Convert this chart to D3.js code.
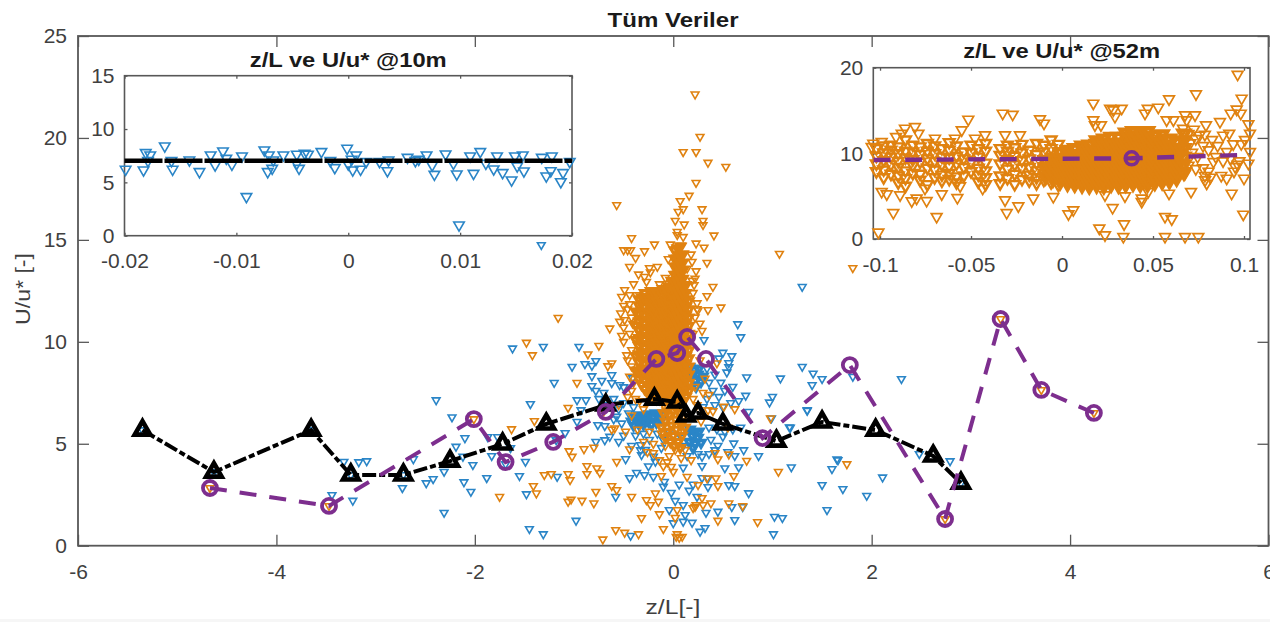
<!DOCTYPE html>
<html>
<head>
<meta charset="utf-8">
<script src="https://cdn.jsdelivr.net/npm/d3@7"></script>
<style>
  html, body { margin: 0; padding: 0; background: #fff; }
  text { font-family: "Liberation Sans", Arial, sans-serif; }
</style>
</head>
<body>
<svg id="chart" width="1270" height="622"></svg>
<script>
// values
const mainXTicks = [-6, -4, -2, 0, 2, 4, 6];
const mainYTicks = [0, 5, 10, 15, 20, 25];
const inset10XTicks = [-0.02, -0.01, 0, 0.01, 0.02];
const inset10YTicks = [0, 5, 10, 15];
const inset52XTicks = [-0.1, -0.05, 0, 0.05, 0.1];
const inset52YTicks = [0, 10, 20];

const binned10 = [[-5.35,5.67],[-4.63,3.61],[-3.65,5.67],[-3.25,3.47],[-2.72,3.47],[-2.25,4.15],[-1.72,4.99],[-1.28,5.97],[-0.68,6.90],[-0.19,7.19],[0.04,7.05],[0.13,6.36],[0.25,6.51],[0.50,5.97],[1.04,5.13],[1.50,6.07],[2.04,5.67],[2.62,4.40],[2.90,3.07]];
const binned52 = [[-4.67,2.83],[-3.47,1.95],[-2.01,6.21],[-1.69,4.10],[-1.21,5.09],[-0.68,6.56],[-0.17,9.16],[0.04,9.45],[0.14,10.24],[0.33,9.16],[0.90,5.28],[1.78,8.86],[2.74,1.31],[3.30,11.12],[3.71,7.64],[4.24,6.51]];

const blueMain = [[-5.35,5.67],[-4.63,3.61],[-3.65,5.67],[-3.25,3.47],[-2.72,3.47],[2.90,3.07],
  [-2.39,7.14],[-2.23,6.30],[-2.10,5.28],[-2.19,4.86],[-2.12,4.37],[-2.02,3.96],[-2.31,3.63],[-2.42,3.27],[-2.49,3.07],[-2.62,4.25],[-2.73,2.83],[-2.11,3.12],[-2.04,2.65],[-2.31,1.62],[-1.88,3.32],[-1.87,5.33],[-1.77,5.33],[-1.83,4.40],[-1.69,4.0],[-1.55,3.42],[-3.32,4.12],[-3.17,4.10],[-3.09,4.15],[-3.44,2.49],[-3.23,2.21],[-1.64,4.79],
  [-1.20,7.99],[-1.44,6.95],[-1.02,8.78],[-0.89,8.91],[-0.82,8.83],[-0.78,9.06],[-0.82,8.32],[-0.82,7.83],[-0.78,7.60],[-0.72,8.09],[-0.62,8.37],[-0.62,7.98],[-0.54,7.88],[-0.50,7.78],[-0.41,8.22],[-0.97,7.14],[-0.88,7.14],[-0.93,6.65],[-0.97,6.08],[-1.09,5.53],[-1.18,5.18],[-1.49,4.12],[-1.17,3.38],[-1.48,2.53],[-0.98,1.23],[-1.45,0.82],[-1.31,0.57],[-0.78,5.10],[-0.69,5.18],[-0.64,5.35],[-0.55,5.10],[-0.76,5.92],[-0.69,5.87],[-0.57,6.33],[-0.48,4.25],[-0.44,3.32],[-0.37,3.58],[-0.29,3.47],[-0.33,4.94],[-0.33,4.69],[-0.32,4.45],[-0.20,4.37],[-0.18,4.12],[-0.58,2.40],[-0.43,0.49],
  [0,1.11],[0.10,1.18],[0.19,1.13],[0.27,0.69],[0.32,0.87],[-0.04,1.75],[0.12,1.51],[0.33,1.62],[0.45,1.67],[0.59,1.90],[0.62,1.26],[0.76,2.58],[0.70,1.90],[1.02,1.42],[1.10,1.36],[1.01,0.57],[-0.09,3.14],[-0.20,3.38],[0.10,3.83],[0.29,3.91],[0.29,3.32],[0.35,2.88],[0.56,2.98],[0.62,2.93],[0.52,3.80],[0.66,3.85],[0.86,4.40],[0.71,4.69],[0.61,5.02],[0.50,5.35],[0.29,4.37],[0.42,4.69],[1.19,3.85],[1.50,2.98],[1.55,1.75],[1.60,3.76],[1.65,4.24],[1.30,8.78],[1.41,8.45],[1.50,8.18],[1.40,7.88],[1.08,8.21],[0.74,8.26],[0.73,7.36],[1.00,7.31],[0.97,7.03],[0.76,6.57],[1.17,5.81],[1.35,6.65],[0.99,6.25],
  [1.30,12.70],[0.65,10.87],[0.68,10.23],[0.50,9.47],[0.59,9.30],[-1.62,9.68],[-1.31,9.76],[-0.95,9.76],[0.31,10.09],[0.46,9.19],[0.56,8.96],[0.56,8.76],[-1.33,14.75],[1.81,8.29],[2.30,8.18],[1.35,6.62],[1.18,5.79],[2.48,4.50],[2.79,4.15],[1.66,4.20],[1.71,2.78],[2.11,3.35],[1.95,2.45],
  [-0.75,7.2],[-0.7,7.5],[-0.65,6.9],[-0.6,7.2],[-0.55,6.7],[-0.5,7.0],[-0.45,6.5],[-0.4,6.8],[-0.6,6.2],[-0.52,6.0],[-0.5,5.4],[-0.42,4.9],[-0.28,4.7],[-0.12,4.8],[-0.38,5.4],[-0.3,5.5],[-0.24,5.2],[-0.16,5.5],[-0.1,5.2],[-0.04,5.6],
  [0.18,8.8],[0.34,8.7],[0.36,8.0],[0.42,8.4],[0.48,8.0],[0.54,8.5],[0.4,7.6],[0.46,7.3],[0.52,7.6],[0.6,7.8],[0.34,7.2],[0.42,6.9],[0.5,6.8],[0.58,7.0],[0.66,7.1],[0.3,6.8],[0.38,5.2],[0.36,4.5],[0.25,4.5],[0.36,5.8],[0.44,5.7],[0.52,5.6],[0.6,5.7],[0.68,5.8],[0.14,4.4],[0.1,4.9],[0.08,5.3],[0.45,4.9],[0.55,4.6],[0.62,4.4],[0.35,3.3],[-0.02,2.6],[0.02,2.2],[0.1,2.0],[-0.1,2.9],[-0.25,3.9],[0.2,3.0],[0.24,2.4],[0.16,2.7],[0.06,3.0]];

// patches where the blue markers merge
const blueDense = [[-0.42,6.1],[-0.38,6.3],[-0.35,6.0],[-0.32,6.2],[-0.3,5.95],[-0.27,6.35],[-0.25,6.1],[-0.22,5.95],[-0.2,6.3],[-0.17,6.05],[-0.15,6.4],[-0.34,6.4],[-0.4,5.9],[-0.24,6.45],[-0.18,6.5],[-0.12,6.2],[-0.28,6.1],[-0.36,6.15],
  [0.19,8.4],[0.22,8.1],[0.25,8.4],[0.28,8.05],[0.21,8.6],[0.26,8.7],[0.3,8.3],[0.23,7.8],
  [0.16,5.1],[0.19,5.4],[0.22,5.0],[0.25,5.3],[0.28,5.05],[0.2,4.8],[0.26,5.6],[0.17,5.7],[0.22,5.55]];

// solid part of the orange cloud, one list of U/u* per z/L column
const coreX = [-0.38,-0.35,-0.32,-0.29,-0.26,-0.23,-0.20,-0.17,-0.14,-0.11,-0.08,-0.05,-0.02,0.01,0.04,0.07,0.10,0.13,0.16];
const coreY = [
  [8.6,9.3,10.1,10.8,11.5],
  [8.2,8.6,9.0,9.4,9.8,10.2,10.6,11.0,11.4,11.8,12.1],
  [7.9,8.3,8.7,9.1,9.5,9.9,10.3,10.7,11.1,11.5,11.9,12.2],
  [7.7,8.1,8.5,8.9,9.3,9.7,10.1,10.5,10.9,11.3,11.7,12.1,12.4],
  [7.5,7.9,8.3,8.7,9.1,9.5,9.9,10.3,10.7,11.1,11.5,11.9,12.2],
  [7.4,7.8,8.2,8.6,9.0,9.4,9.8,10.2,10.6,11.0,11.4,11.8,12.2,12.5],
  [7.3,7.7,8.1,8.5,8.9,9.3,9.7,10.1,10.5,10.9,11.3,11.7,12.1,12.4],
  [7.2,7.6,8.0,8.4,8.8,9.2,9.6,10.0,10.4,10.8,11.2,11.6,12.0,12.4],
  [7.2,7.6,8.0,8.4,8.8,9.2,9.6,10.0,10.4,10.8,11.2,11.6,12.0,12.5],
  [7.1,7.5,7.9,8.3,8.7,9.1,9.5,9.9,10.3,10.7,11.1,11.5,11.9,12.3,12.6],
  [7.1,7.5,7.9,8.3,8.7,9.1,9.5,9.9,10.3,10.7,11.1,11.5,11.9,12.3,12.6],
  [7.1,7.5,7.9,8.3,8.7,9.1,9.5,9.9,10.3,10.7,11.1,11.5,11.9,12.3,12.7],
  [7.0,7.4,7.8,8.2,8.6,9.0,9.4,9.8,10.2,10.6,11.0,11.4,11.8,12.2,12.6,13.0],
  [6.9,7.3,7.7,8.1,8.5,8.9,9.3,9.7,10.1,10.5,10.9,11.3,11.7,12.1,12.5,12.9,13.3,13.7,14.1,14.5],
  [6.9,7.3,7.7,8.1,8.5,8.9,9.3,9.7,10.1,10.5,10.9,11.3,11.7,12.1,12.5,12.9,13.3,13.7,14.1,14.6],
  [7.0,7.4,7.8,8.2,8.6,9.0,9.4,9.8,10.2,10.6,11.0,11.4,11.8,12.2,12.6,13.0,13.4,13.8,14.2,14.7],
  [7.1,7.5,7.9,8.3,8.7,9.1,9.5,9.9,10.3,10.7,11.1,11.5,11.9,12.3,12.7,13.1,13.5,13.9,14.3],
  [7.3,7.7,8.1,8.5,8.9,9.3,9.7,10.1,10.5,10.9,11.3,11.7,12.1,12.4,12.8],
  [7.6,8.0,8.4,8.8,9.2,9.6,10.0,10.4,10.8,11.2,11.6,12.0]];
// wedge just below the black line
const orangeWedge = [[-0.12,5.8],[-0.08,6.1],[-0.06,5.6],[-0.04,6.4],[-0.02,5.9],[0,5.4],[0,6.6],[0.02,6.2],[0.03,5.7],[0.05,5.1],[0.06,6.5],[0.08,5.9],[0.09,5.4],[0.1,6.3],[0.12,5.8],[-0.03,5.1],[0.01,4.9],[-0.08,5.3],[-0.06,6.6],[0.04,6.7],[-0.1,6.5],[0.07,4.8]];

const orangeMain = [[-4.67,2.83],[-3.47,1.95],[-2.01,6.21],[2.74,1.31],[3.30,11.12],[3.71,7.64],[4.24,6.51],[1.81,13.62],[1.75,4.0],
  [0.22,22.14],[0.27,20.06],[0.10,19.31],[0.23,19.31],[0.35,18.79],[0.53,18.59],[0.23,17.8],[0.16,17.17],[0.07,16.91],[0.10,16.51],[0.05,16.38],[0.29,16.51],[-0.57,16.71],[0.02,15.94],[0.11,15.76],[0.30,15.94],[0.30,15.73],[0.04,15.4],[0.04,15.24],[0.10,15.15],[0.41,15.22],[-0.42,15.09],[-0.19,14.78],[-0.03,14.78],[0.09,14.71],[0.23,14.83],[0.31,14.63],[-0.50,14.5],[-0.46,14.5],[-0.43,14.5],[-0.29,14.45],[1.07,14.32],[-0.38,14.12],[-0.05,14.06],[0.18,14.29],[0.19,13.93],[0.34,13.88],[-0.44,13.68],[-0.16,13.68],[-0.24,13.62],[-0.35,13.31],[-0.29,13.19],[-0.23,13.41],[-0.08,13.14],[0.23,13.47],[0.22,13.11],[-0.40,12.83],[-0.27,12.95],[-0.14,12.83],[-0.07,12.83],[0.21,12.79],[0.40,12.7],[-0.49,12.54],[-0.52,12.21],[-0.44,12.3],[-0.37,12.3],[0.34,12.25],[-0.50,11.77],[-0.44,11.85],[-0.53,11.4],[0.24,11.61],[0.25,11.55],[0.35,11.56],[0.48,11.69],[-1.16,11.18],[-0.54,10.99],[-0.64,10.66],[-0.49,11.07],[0.29,10.54],[-1.48,9.96],[-1.42,9.35],[-0.75,9.81],[-0.86,9.39],[-0.62,8.95],[-0.66,8.81],[-0.50,10.0],[-0.47,9.35],[-0.52,10.3],
  [-0.46,11.6],[-0.42,11.2],[-0.5,10.7],[-0.44,10.4],[-0.41,10.9],[-0.42,9.6],[-0.46,9.1],[-0.42,8.8],[-0.44,8.3],[-0.40,8.0],[-0.42,7.6],[-0.38,7.2],[0.2,12.4],[0.24,11.9],[0.22,11.2],[0.27,10.9],[0.2,10.4],[0.19,13.0],[0.14,13.6],
  [-0.97,7.99],[-1.06,6.77],[-1.40,6.12],[-1.63,5.72],[-1.05,4.64],[-1.02,4.37],[-0.90,4.74],[-0.80,4.82],[-0.87,3.91],[-0.77,3.80],[-0.74,3.58],[-1.30,3.47],[-1.23,3.52],[-1.06,3.52],[-1.04,3.22],[-0.87,3.52],[-1.41,2.93],[-1.38,2.57],[-1.75,2.40],[-0.78,2.65],[-0.62,2.93],[-0.57,2.73],[-0.42,2.40],[-1.06,2.16],[-1.03,2.27],[-0.92,2.21],[-0.80,2.08],[-0.32,1.36],[-0.58,0.77],[-0.49,0.64],[-0.35,0.57],[-0.71,0.31],[-0.10,0.82],[0.04,0.57],[0.06,0.39],[0.03,0.44],[0.09,0.44],[0.45,1.23],[0.85,1.16],[-0.27,2.24],[-0.23,2.0],[-0.18,2.57],[-0.15,2.16],[-0.14,1.55],[0.04,1.75],[0.02,1.37],[0.22,1.91],[0.20,1.85],[0.23,2.0],[0.29,2.34],[0.30,2.0],[0.38,2.08],[0.56,2.08],[0.70,1.95],[1.06,3.63],[-0.12,3.42],[-0.02,3.87],[0,3.63],[0.14,3.38],[0.25,2.98],[0.45,2.93],[0.34,3.31],[0.43,3.31],[0.61,3.42],[-0.57,4.12],[-0.44,4.73],[-0.20,4.55],[0.42,4.55],[0.45,4.24],[0.56,4.48],[0.74,4.17],[0.98,6.25],[0.51,6.82],[0.35,6.65],[0.44,8.95],[-0.59,5.76],
  [-0.70,6.6],[-0.62,5.7],[-0.55,6.9],[-0.48,5.6],[-0.42,6.4],[-0.36,5.7],[-0.30,6.7],[-0.46,7.3],[-0.34,7.1],[-0.24,5.6],[-0.12,5.5],[0.32,8.2],[0.36,7.4],[0.40,6.6],[0.27,9.1],[0.22,7.8],[0.2,7.2],[0.24,6.9],[0.3,7.5],[0.28,6.1],[0.55,5.8],[0.62,6.7],
  [-0.30,5.1],[-0.26,4.6],[-0.20,5.0],[-0.14,4.2],[-0.08,4.9],[-0.04,4.4],[0.02,4.7],[0.08,4.3],[0.12,4.7],[0.18,4.2],[-0.1,3.9],[-0.06,4.1]];

const blue10 = [[-.0199,6.22],[-.0183,6.16],[-.0181,7.78],[-.0177,7.56],[-.0179,7.03],[-.0164,8.41],[-.0158,7.03],[-.0157,6.22],[-.0142,7.09],[-.0133,6.0],[-.0123,7.56],[-.0119,6.63],[-.0112,7.94],[-.0109,7.25],[-.0104,6.69],[-.0095,7.47],[-.0091,3.66],[-.0075,8.03],[-.0071,7.56],[-.0067,7.09],[-.0072,6.0],[-.0068,6.31],[-.0058,7.56],[-.0046,7.63],[-.0044,6.31],[-.0046,6.78],[-.0039,7.72],[-.0036,7.63],[-.0024,7.88],[-.0016,7.03],[-.0012,6.38],[-.0001,8.19],[0,6.72],[.0003,7.16],[.0004,6.16],[.0007,7.56],[.0011,6.22],[.0016,6.94],[.0028,6.94],[.0036,7.09],[.0035,6.09],[.0053,7.34],[.006,7.03],[.0063,7.16],[.007,7.56],[.0075,6.63],[.0077,5.75],[.0087,7.66],[.0094,6.78],[.0097,5.78],[.0099,1.0],[.0109,7.47],[.0112,5.84],[.0118,7.88],[.0123,6.78],[.013,6.25],[.0133,7.47],[.0138,5.91],[.0146,5.22],[.0149,7.47],[.0151,6.53],[.0156,7.56],[.0157,6.06],[.0173,7.34],[.0177,5.59],[.0182,7.47],[.0181,6.09],[.019,5.06],[.0192,5.91],[.0198,6.94]];
const mean10 = [[-0.02,7.03],[0.02,7.03]];

const orange52 = [[.0965,19.22],[.0987,16.42],[.0736,16.93],[.0588,16.34],[.0172,15.84],[.096,15.14],[.0927,14.67],[.0982,14.67],[.1024,13.42],[.1033,12.33],[-.0326,14.67],[-.0271,14.55],[-.0515,13.97],[-.0551,12.72],[-.0121,14.01],[-.0099,13.5],[.0282,15.06],[.0328,15.25],[.0264,15.25],[.0291,14.28],[.0471,15.25],[.0529,15.37],[.0456,14.67],[.0172,13.89],[.0181,13.31],[.0214,13.31],[.0612,13.89],[.0575,13.89],[.0676,14.47],[.0731,14.47],[.0685,13.89],[.0791,13.31],[.0868,13.7],[.0919,12.33],[.0941,11.09],[-.0313,12.14],[-.0231,12.14],[-.0423,12.14],[-.0478,11.75],[-.0588,11.75],[-.0698,11.75],[-.0808,13.11],[-.0863,12.92],[-.0881,12.33],[-.0912,11.95],[-.0789,12.33],[-.1037,11.17],[-.0991,11.36],[-.1046,10.78],
  [-.1009,.78],[-.0927,3.07],[-.0689,2.61],[-.0991,5.53],[-.0963,5.25],[-.089,5.14],[-.0826,4.44],[-.0799,4.75],[-.0744,4.47],[-.0661,5.25],[-.0575,4.82],[-.0753,5.91],[-.0436,5.91],[-.056,6.19],[-.0313,4.55],[-.0304,3.07],[-.024,3.85],[-.0158,4.75],[-.0048,4.94],[.0035,2.92],[.0062,3.39],[.0205,1.25],[.0236,.47],[.0341,1.75],[.0337,.27],[.0566,2.61],[.0603,2.33],[.0566,.27],[.0676,.27],[.0749,.27],[.0236,5.14],[.0278,3.66],[.0346,5.02],[.0438,4.75],[.0438,4.36],[.0474,5.53],[.0588,5.33],[.0709,5.53],[.0795,6.5],[.0932,5.33],[.0996,2.88],[.1,7.08],[.0786,6.89],[.0905,7.08],[.0951,8.44],[.1024,8.83],[.1033,10.19],[.0832,9.03],
  [.0665,12.9],[.0695,12.3],[.0725,12.8],[.0755,12.1],[.0665,11.6],[.0705,11.2],[.0735,11.7],[.0675,10.6],[.0715,10.1],[.068,9.4],[.0745,9.6],[.0695,8.6],[.0735,8.2],[.0675,7.6],[.0775,8.3],[.0805,7.9],[.0815,7.2],[.0785,7.4],[.0825,11.6],[.0855,10.9],[.0885,12.1],[.0905,10.2],[.0845,9.6],[.0885,9.1],[.0925,9.4],[.0975,9.1],[.1005,11.6],[.0985,11.1],[.0965,8.7],[.0945,7.9],[.0875,7.4],[.0805,10.4],[.0775,10.9],[.0785,12.2]];

// the busy band and the solid core of the 52 m panel, by z/L column
const band52X = [-.102,-.098,-.094,-.090,-.086,-.082,-.078,-.074,-.070,-.066,-.062,-.058,-.054,-.050,-.046,-.042,-.034,-.030,-.026,-.022,-.018,-.014,-.010,-.006,-.002];
const band52Y = [
  [7.9,8.8,9.7,10.6],[7.2,8.1,9.2,10.1,10.9],[7.6,8.7,9.6,10.4,11.0],[6.6,7.4,8.4,9.1,10.0,10.8],
  [6.2,7.1,8.0,9.5,10.3,11.6],[7.7,8.6,9.3,10.2,11.0],[6.9,7.6,9.0,9.9,10.8],[6.4,8.3,9.4,10.3,11.2],
  [7.2,8.1,9.1,10.0,10.9],[6.8,7.5,8.7,9.6,10.6],[7.0,7.7,8.5,9.5,10.4,11.3],[6.6,7.3,8.8,9.7,10.9],
  [7.4,8.4,9.4,10.2],[7.9,9.0,10.1,11.0],[6.7,7.5,8.3,9.6,10.6],[6.4,7.2,8.0,8.9,10.3,11.2],
  [6.5,7.4,8.8,9.8,10.6],[7.1,8.2,9.3,10.3,11.0],[6.4,7.6,8.7,9.7,10.7],[7.0,8.3,9.2,10.1,11.1],
  [6.8,7.5,8.4,9.4,10.4],[6.5,7.2,8.0,8.9,9.9,11.2],[6.9,7.7,8.5,9.3,10.2,11.0],[6.6,7.3,8.0,8.8,9.6,10.6,11.6],[6.3,7.0,7.7,8.5,9.3,10.2,11.1]];
const core52X = [-.009,-.005,-.001,.003,.007,.011,.015,.019,.023,.027,.031,.035,.039,.043,.047,.051,.055,.059,.063,.067];
const core52Y = [
  [7.3,8.2,9.1],[7.0,7.8,8.6,9.4],[6.7,7.4,8.1,8.8,9.5,10.1],
  [6.5,7.2,7.9,8.6,9.3,9.9,10.4],[6.4,7.1,7.8,8.5,9.2,9.9,10.6],[6.3,7.0,7.7,8.4,9.1,9.8,10.5,10.9],
  [6.2,6.9,7.6,8.3,9.0,9.7,10.4,11.0],[6.3,6.9,7.6,8.3,9.0,9.7,10.4,11.1,11.5],[6.2,6.9,7.6,8.3,9.0,9.7,10.4,11.1,11.7],
  [6.4,7.0,7.7,8.4,9.1,9.8,10.5,11.2,11.9],[6.3,7.0,7.7,8.4,9.1,9.8,10.5,11.2,11.9],[6.4,7.0,7.7,8.4,9.1,9.8,10.5,11.2,11.9,12.4],
  [6.5,7.1,7.8,8.5,9.2,9.9,10.6,11.3,12.0,12.6],[6.4,7.1,7.8,8.5,9.2,9.9,10.6,11.3,12.0,12.4],[6.4,7.0,7.7,8.4,9.1,9.8,10.5,11.2,11.9,12.6],
  [6.6,7.2,7.9,8.6,9.3,10.0,10.7,11.4,12.1],[6.7,7.4,8.1,8.8,9.5,10.2,10.9,11.6,12.2],[6.8,7.5,8.2,8.9,9.6,10.3,11.0,11.7],
  [7.1,7.8,8.5,9.2,9.9,10.6,11.3],[7.8,8.7,9.6,10.6,11.5,12.3]];
const mean52 = [[-0.1035,9.22],[0.0383,9.42],[0.0967,9.8]];
const circle52 = [[0.0383,9.42]];

const columns = (xs, ys) => xs.flatMap((x, i) => ys[i].map(y => [x, y]));

const blue = '#2a85c7', orange = '#e08210', purple = '#7d2e8e', axisColor = '#585858', textColor = '#404040';

const svg = d3.select('#chart');
const downTri = size => d3.symbol(d3.symbolTriangle, size)();

function drawFrame(g, x, y, xTicks, yTicks, o) {
  const [x0, x1] = x.range(), [y0, y1] = y.range();
  const fmt = d => String(d);
  const styleAxis = a => {
    a.select('.domain').remove();
    a.selectAll('line').attr('stroke', axisColor).attr('stroke-width', 1.3);
    a.selectAll('text').attr('fill', textColor).style('font-size', o.font + 'px');
  };
  g.append('g').attr('transform', `translate(0,${y0})`)
    .call(d3.axisBottom(x).tickValues(xTicks).tickFormat(fmt).tickSize(-o.tick).tickPadding(o.padX)).call(styleAxis);
  g.append('g').attr('transform', `translate(0,${y1})`)
    .call(d3.axisTop(x).tickValues(xTicks).tickFormat('').tickSize(-o.tick)).call(styleAxis);
  g.append('g').attr('transform', `translate(${x0},0)`)
    .call(d3.axisLeft(y).tickValues(yTicks).tickFormat(fmt).tickSize(-o.tick).tickPadding(o.padY)).call(styleAxis);
  g.append('g').attr('transform', `translate(${x1},0)`)
    .call(d3.axisRight(y).tickValues(yTicks).tickFormat('').tickSize(-o.tick)).call(styleAxis);
  g.append('rect').attr('x', x0).attr('y', y1).attr('width', x1 - x0).attr('height', y0 - y1)
    .attr('fill', 'none').attr('stroke', axisColor).attr('stroke-width', o.frame);
}

function drawPoints(g, pts, x, y, color, size, width) {
  g.append('g').selectAll('path').data(pts).enter().append('path')
    .attr('d', downTri(size))
    .attr('transform', d => `translate(${x(d[0])},${y(d[1])}) rotate(180)`)
    .attr('fill', 'none').attr('stroke', color).attr('stroke-width', width);
}

// faint strip along the bottom of the screenshot
svg.append('rect').attr('x', 0).attr('y', 619).attr('width', 1270).attr('height', 3).attr('fill', '#f6f6f6');

// main axes
const x = d3.scaleLinear().domain([-6, 6]).range([78, 1268.5]);
const y = d3.scaleLinear().domain([0, 25]).range([545.7, 36]);
const main = svg.append('g');
drawFrame(main, x, y, mainXTicks, mainYTicks, { tick: 11, padX: 18, padY: 11, font: 21, frame: 1.8 });

drawPoints(main, blueMain, x, y, blue, 26, 1.6);
drawPoints(main, blueDense, x, y, blue, 26, 3.4);
drawPoints(main, orangeMain, x, y, orange, 26, 1.6);
drawPoints(main, columns(coreX, coreY), x, y, orange, 26, 3.2);
drawPoints(main, orangeWedge, x, y, orange, 26, 3.2);

const line = d3.line().x(d => x(d[0])).y(d => y(d[1]));
main.append('path').attr('d', line(binned10)).attr('fill', 'none').attr('stroke', '#000')
  .attr('stroke-width', 4).attr('stroke-dasharray', '14 3 6 3');
main.append('g').selectAll('path').data(binned10).enter().append('path')
  .attr('d', d3.symbol(d3.symbolTriangle, 105)())
  .attr('transform', d => `translate(${x(d[0])},${y(d[1])})`)
  .attr('fill', 'none').attr('stroke', '#000').attr('stroke-width', 4.6);
main.append('path').attr('d', line(binned52)).attr('fill', 'none').attr('stroke', purple)
  .attr('stroke-width', 4).attr('stroke-dasharray', '17 13');
main.append('g').selectAll('circle').data(binned52).enter().append('circle')
  .attr('cx', d => x(d[0])).attr('cy', d => y(d[1])).attr('r', 7)
  .attr('fill', 'none').attr('stroke', purple).attr('stroke-width', 3.8);

main.append('text').attr('x', 673).attr('y', 27).attr('text-anchor', 'middle')
  .attr('font-weight', 'bold').attr('fill', '#1a1a1a').style('font-size', '21px')
  .attr('textLength', 131).attr('lengthAdjust', 'spacingAndGlyphs').text('Tüm Veriler');
main.append('text').attr('transform', 'translate(30,289) rotate(-90)').attr('text-anchor', 'middle')
  .attr('fill', textColor).style('font-size', '21px')
  .attr('textLength', 72).attr('lengthAdjust', 'spacingAndGlyphs').text('U/u* [-]');
main.append('text').attr('x', 673).attr('y', 614).attr('text-anchor', 'middle')
  .attr('fill', textColor).style('font-size', '21px')
  .attr('textLength', 55).attr('lengthAdjust', 'spacingAndGlyphs').text('z/L[-]');

function inset(title, xRange, yRange, xDomain, yDomain, xTicks, yTicks, padX, titleY) {
  const ix = d3.scaleLinear().domain(xDomain).range(xRange);
  const iy = d3.scaleLinear().domain(yDomain).range(yRange);
  const g = svg.append('g');
  g.append('rect').attr('x', xRange[0]).attr('y', yRange[1]).attr('width', xRange[1] - xRange[0])
    .attr('height', yRange[0] - yRange[1]).attr('fill', '#fff');
  drawFrame(g, ix, iy, xTicks, yTicks, { tick: 3, padX: padX, padY: 10, font: 21, frame: 1.6 });
  g.append('text').attr('x', d3.mean(xRange)).attr('y', titleY).attr('text-anchor', 'middle')
    .attr('font-weight', 'bold').attr('fill', '#1a1a1a').style('font-size', '21px')
    .attr('textLength', 197).attr('lengthAdjust', 'spacingAndGlyphs').text(title);
  return { g, ix, iy };
}

const p10 = inset('z/L ve U/u* @10m', [124.5, 572], [235.7, 75.7], [-0.02, 0.02], [0, 15], inset10XTicks, inset10YTicks, 17, 67);
drawPoints(p10.g, blue10, p10.ix, p10.iy, blue, 48, 1.6);
p10.g.append('path').attr('d', d3.line().x(d => p10.ix(d[0])).y(d => p10.iy(d[1]))(mean10))
  .attr('fill', 'none').attr('stroke', '#000').attr('stroke-width', 4.6).attr('stroke-dasharray', '38 2');

const p52 = inset('z/L ve U/u* @52m', [873.3, 1250], [239, 67.7], [-0.1037, 0.1033], [0, 20], inset52XTicks, inset52YTicks, 18, 58);
drawPoints(p52.g, orange52, p52.ix, p52.iy, orange, 50, 1.7);
drawPoints(p52.g, columns(band52X, band52Y), p52.ix, p52.iy, orange, 50, 2.4);
drawPoints(p52.g, columns(core52X, core52Y), p52.ix, p52.iy, orange, 50, 4.2);
p52.g.append('path').attr('d', d3.line().x(d => p52.ix(d[0])).y(d => p52.iy(d[1]))(mean52))
  .attr('fill', 'none').attr('stroke', purple).attr('stroke-width', 4.4).attr('stroke-dasharray', '17 14.5');
p52.g.selectAll('circle').data(circle52).enter().append('circle')
  .attr('cx', d => p52.ix(d[0])).attr('cy', d => p52.iy(d[1])).attr('r', 6.5)
  .attr('fill', 'none').attr('stroke', purple).attr('stroke-width', 3.6);
</script>
</body>
</html>
